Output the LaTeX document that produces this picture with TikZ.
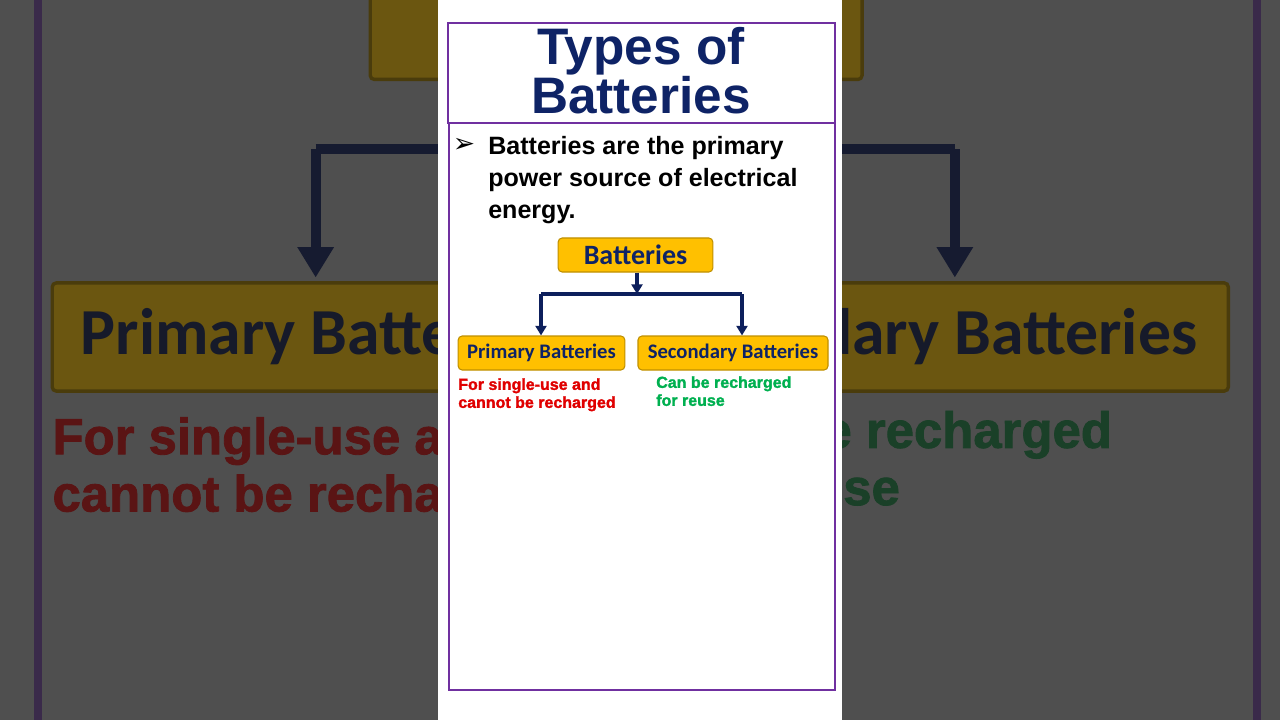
\documentclass[tikz,border=0pt]{standalone}
\usepackage{fontspec}
\setmainfont{Liberation Sans}
\newfontfamily\carl{Carlito}
\newfontfamily\dejavu{DejaVu Sans}
\newfontfamily\heavy{Liberation Sans Bold}[FakeBold=1.6]
\usetikzlibrary{arrows.meta}
\definecolor{navy}{HTML}{0E2366}
\definecolor{purp}{HTML}{7030A0}
\definecolor{gold}{HTML}{FFC000}
\definecolor{goldline}{HTML}{BF9000}
\definecolor{redt}{HTML}{E00000}
\definecolor{greent}{HTML}{00B050}
\definecolor{arrc}{HTML}{0D1F5C}
\definecolor{bggold}{HTML}{6B5610}
\definecolor{bggoldline}{HTML}{4A3C0C}
\definecolor{bgnavy}{HTML}{161A2A}
\definecolor{bgred}{HTML}{5A1414}
\definecolor{bggreen}{HTML}{1A4028}
\definecolor{bgarr}{HTML}{161B30}
\definecolor{bg}{HTML}{4F4F4F}
\definecolor{bgpurp}{HTML}{3A2A4A}
\tikzset{
 box/.style={draw=\bline, fill=\bfill, rounded corners=3pt, line width=0.8pt*\lwf, inner sep=0pt, text=\btext, font=\carl\bfseries},
 conn/.style={draw=\barr, line width=2.4pt*\lwf, -{Triangle[length=0pt 3 0,width=0pt 3.4 0]}},
 connl/.style={draw=\barr, line width=2.4pt*\lwf},
 note/.style={font=\heavy\fontsize{12pt}{13.5pt}\selectfont, align=left, anchor=north west, inner sep=0pt},
}
\newcommand{\dia}{%
 \node[box, minimum width=116pt, minimum height=25.5pt, font=\carl\bfseries\fontsize{21pt}{22pt}\selectfont] (bat) at (635.5,255) {Batteries};
 \node[box, minimum width=125pt, minimum height=25.5pt, font=\carl\bfseries\fontsize{15.5pt}{17pt}\selectfont] (pri) at (541.5,353) {Primary Batteries};
 \node[box, minimum width=142.5pt, minimum height=25.5pt, font=\carl\bfseries\fontsize{15.5pt}{17pt}\selectfont] (sec) at (733,353) {Secondary Batteries};
 \coordinate (j) at (637,294);
 \coordinate (jl) at (541,294);
 \coordinate (jr) at (742,294);
 \draw[conn] (bat.south -| j) -- (j);
 \draw[connl] (jl) -- (jr);
 \draw[conn] (jl) -- (jl |- pri.north);
 \draw[conn] (jr) -- (jr |- sec.north);
 \node[note, text=\bred] (pn) at (458,378) {For single-use and\\cannot be recharged};
 \node[note, text=\bgreen] (sn) at (656,376) {Can be recharged\\for reuse};
}
\begin{document}
\begin{tikzpicture}[x=0.75pt,y=-0.75pt]
\useasboundingbox (0,0) rectangle (1280,720);
\fill[bg] (0,0) rectangle (1280,720);
\begin{scope}
\clip (0,0) rectangle (1280,720);
\def\lwf{3.18}
\def\bline{bggoldline}\def\bfill{bggold}\def\btext{bgnavy}\def\barr{bgarr}\def\bred{bgred}\def\bgreen{bggreen}
\begin{scope}[shift={(640,337)}, scale=3.18, shift={(-643,-353)}, transform shape]
\dia
\end{scope}
\draw[bgpurp, line width=6pt] (38,0) -- (38,720);
\draw[bgpurp, line width=6pt] (1257,0) -- (1257,720);
\end{scope}
\fill[white] (438,0) rectangle (842,720);
\draw[purp, line width=2.2pt] (449,123) rectangle (835,690);
\draw[purp, line width=2.2pt] (448,23) rectangle (835,123);
\node[text=navy, font=\bfseries\fontsize{38.5pt}{35pt}\selectfont, align=center] (title) at (641,71) {Types of\\Batteries};
\node[font=\dejavu\fontsize{20pt}{20pt}\selectfont, anchor=center] (bul) at (464,145) {➢};
\node[font=\bfseries\fontsize{18.8pt}{24pt}\selectfont, align=left, anchor=north west, inner sep=0pt] (txt) at (488,136) {Batteries are the primary\\power source of electrical\\energy.};
\def\lwf{1}
\def\bline{goldline}\def\bfill{gold}\def\btext{navy}\def\barr{arrc}\def\bred{redt}\def\bgreen{greent}
\dia
\end{tikzpicture}
\end{document}
